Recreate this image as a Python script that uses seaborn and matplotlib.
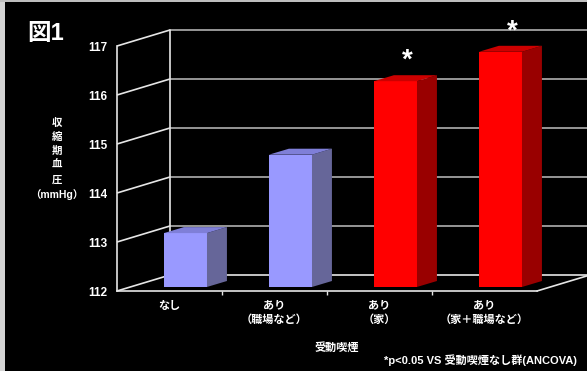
import matplotlib
matplotlib.use("Agg")
import matplotlib.pyplot as plt
import seaborn as sns
import pandas as pd
from matplotlib.patches import Polygon, Rectangle

# Systolic blood pressure by passive-smoking exposure
categories = ["なし", "あり\n（職場など）", "あり\n（家）", "あり\n（家＋職場など）"]
sbp = [113.1, 114.7, 116.2, 116.8]
significance = ["", "", "*", "*"]
y_ticks = [112, 113, 114, 115, 116, 117]

front_colors = ["#9999ff", "#9999ff", "#ff0000", "#ff0000"]
side_colors = ["#666699", "#666699", "#990000", "#990000"]
top_colors = ["#7f7fd8", "#7f7fd8", "#cc0000", "#cc0000"]

# pseudo-3D box geometry, in data units of the front plane
WALL_DX, WALL_DY = 0.505, 0.327    # depth of the back wall
BAR_DX, BAR_DY = 0.152, 0.082      # where the bars stand inside the box
DEPTH_DX, DEPTH_DY = 0.19, 0.122   # thickness of each bar
EDGE = "#e6e6e6"
GRID = "#b0b0b0"
LW = 1.2

sns.set_theme(style="dark")
plt.rcParams["font.family"] = ["Liberation Sans", "Noto Sans CJK JP"]

fig = plt.figure(figsize=(5.87, 3.71), dpi=100, facecolor="black")
# light frame strips on the left and top edge
fig.patches.append(Rectangle((0, 0), 5 / 587, 1, transform=fig.transFigure,
                             facecolor="#d4d4d4", edgecolor="none", zorder=0))
fig.patches.append(Rectangle((0, 1 - 1.5 / 371), 1, 1.5 / 371, transform=fig.transFigure,
                             facecolor="#bdbdbd", edgecolor="none", zorder=0))

ax = fig.add_axes([117 / 587, 80 / 371, 420 / 587, 245 / 371])
ax.set_facecolor("none")

df = pd.DataFrame({"group": categories, "sbp": sbp})
sns.barplot(data=df, x="group", y="sbp", hue="group", palette=front_colors,
            saturation=1, width=0.41, legend=False, ax=ax, zorder=3)

base = y_ticks[0]
for container in ax.containers:
    for bar in container:
        i = int(round(bar.get_x() + bar.get_width() / 2))
        v = sbp[i]
        x0 = bar.get_x() + BAR_DX
        w = bar.get_width()
        bar.set_x(x0)
        bar.set_y(base + BAR_DY)
        bar.set_height(v - base)
        bar.set_edgecolor("none")
        bar.set_clip_on(False)
        top = v + BAR_DY
        bot = base + BAR_DY
        side = Polygon([(x0 + w, bot), (x0 + w, top),
                        (x0 + w + DEPTH_DX, top + DEPTH_DY),
                        (x0 + w + DEPTH_DX, bot + DEPTH_DY)],
                       closed=True, facecolor=side_colors[i], edgecolor="none",
                       zorder=3, clip_on=False)
        lid = Polygon([(x0, top), (x0 + w, top),
                       (x0 + w + DEPTH_DX, top + DEPTH_DY),
                       (x0 + DEPTH_DX, top + DEPTH_DY)],
                      closed=True, facecolor=top_colors[i], edgecolor="none",
                      zorder=3, clip_on=False)
        ax.add_patch(side)
        ax.add_patch(lid)
        if significance[i]:
            ax.text(x0 + w / 2 + DEPTH_DX / 2 + 0.02, v + 0.5, significance[i],
                    ha="center", va="center", color="white", fontsize=20,
                    fontweight="bold", clip_on=False, zorder=4)

ax.set_xlim(-0.5, 3.5)
ax.set_ylim(y_ticks[0], y_ticks[-1])

# side wall, back wall and floor of the box
x_left, x_right = -0.5, 3.5
for t in y_ticks:
    ax.plot([x_left, x_left + WALL_DX], [t, t + WALL_DY], color=EDGE, lw=LW,
            clip_on=False, zorder=1, solid_capstyle="butt")
    ax.plot([x_left + WALL_DX, x_right + WALL_DX], [t + WALL_DY] * 2,
            color=EDGE if t == base else GRID, lw=LW, clip_on=False, zorder=1)
ax.plot([x_left + WALL_DX] * 2, [base + WALL_DY, y_ticks[-1] + WALL_DY],
        color=EDGE, lw=LW, clip_on=False, zorder=1)
ax.plot([x_right, x_right + WALL_DX], [base, base + WALL_DY],
        color=EDGE, lw=LW, clip_on=False, zorder=1)

for name in ["top", "right"]:
    ax.spines[name].set_visible(False)
for name in ["left", "bottom"]:
    ax.spines[name].set_visible(True)
    ax.spines[name].set_color(EDGE)
    ax.spines[name].set_linewidth(LW)
    ax.spines[name].set_zorder(2)
ax.grid(False)

ax.set_yticks(y_ticks)
ax.set_yticklabels([str(t) for t in y_ticks], fontweight="bold")
ax.tick_params(axis="y", length=0, pad=7, labelsize=8.5, labelcolor="white")

ax.set_xticks(range(len(categories)))
ax.set_xticklabels(categories, linespacing=1.45, fontweight="bold")
ax.tick_params(axis="x", which="major", length=0, pad=7, labelsize=8, labelcolor="white")
ax.set_xticks([0.5, 1.5, 2.5], minor=True)
ax.tick_params(axis="x", which="minor", bottom=True, length=3, width=1,
               color=EDGE, direction="out")
ax.set_xlabel("")
ax.set_ylabel("")

ax.text((337 - 117) / 420, (291 - 348) / 245, "受動喫煙", transform=ax.transAxes,
        ha="center", va="center", color="white", fontsize=8, fontweight="bold")

fig.text(57 / 587, 1 - 159 / 371, "収\n縮\n期\n血\n圧\n（mmHg）", ha="center",
         va="center", color="white", fontsize=7.5, linespacing=1.5, fontweight="bold")
fig.text(27 / 587, 1 - 33 / 371, "図1", ha="left", va="center", color="white",
         fontsize=17, fontweight="bold")
fig.text(577 / 587, 1 - 360 / 371, "*p<0.05 VS 受動喫煙なし群(ANCOVA)", ha="right",
         va="center", color="white", fontsize=8, fontweight="bold")

fig.savefig("out.png", dpi=100, facecolor=fig.get_facecolor())
